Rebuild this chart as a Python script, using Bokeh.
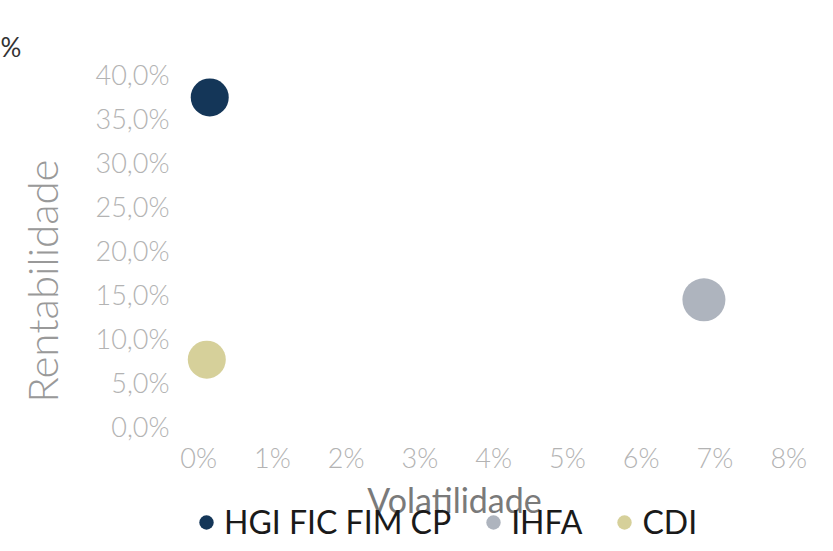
from bokeh.plotting import figure
from bokeh.layouts import column
from bokeh.models import (ColumnDataSource, Legend, LegendItem, FixedTicker,
                          CustomJSTickFormatter, Title, Label)
from bokeh.embed import file_html
from bokeh.resources import INLINE

# ---- data ----
series_names = ["HGI FIC FIM CP", "IHFA", "CDI"]
volatilidade = [0.15, 6.85, 0.11]      # %
rentabilidade = [37.4, 14.4, 7.6]      # %
x_ticks = [0, 1, 2, 3, 4, 5, 6, 7, 8]
y_ticks = [0, 5, 10, 15, 20, 25, 30, 35, 40]

# ---- styles ----
colors = ["#143658", "#AEB4BE", "#D6D09A"]
marker_sizes = [38, 43, 38]
LIGHT = "'Lato Light', Lato, sans-serif"
REG = "Lato, sans-serif"

p = figure(width=817, height=477, x_range=(-0.26, 8.39), y_range=(-0.68, 44.09),
           output_backend="svg", toolbar_location=None,
           min_border_left=179, min_border_right=0, min_border_top=38, min_border_bottom=45)
p.outline_line_color = None
p.grid.visible = False
p.background_fill_color = "white"
p.border_fill_color = "white"

sources = []
for i, name in enumerate(series_names):
    src = ColumnDataSource(dict(x=[volatilidade[i]], y=[rentabilidade[i]]))
    sources.append(src)
    p.scatter("x", "y", source=src, size=marker_sizes[i], fill_color=colors[i],
              line_color=colors[i], line_width=0)

for ax in (p.xaxis[0], p.yaxis[0]):
    ax.axis_line_color = None
    ax.major_tick_line_color = None
    ax.minor_tick_line_color = None
    ax.major_label_text_color = "#B3B3B3"
    ax.major_label_text_font = LIGHT
    ax.major_label_text_font_size = "27px"
    ax.axis_label_text_font_style = "normal"

p.xaxis.ticker = FixedTicker(ticks=x_ticks)
p.yaxis.ticker = FixedTicker(ticks=y_ticks)
p.xaxis.formatter = CustomJSTickFormatter(code="return tick.toFixed(0) + '%';")
p.yaxis.formatter = CustomJSTickFormatter(code="return tick.toFixed(1).replace('.', ',') + '%';")
p.yaxis.axis_label = "Rentabilidade" + "\u00a0" * 8
p.yaxis.axis_label_text_font = LIGHT
p.yaxis.axis_label_text_font_size = "42px"
p.yaxis.axis_label_text_color = "#999999"
p.xaxis.major_label_standoff = 2
p.yaxis.major_label_standoff = 4
p.yaxis.axis_label_standoff = 26

title = Title(text="%", align="left", offset=-179, standoff=-48, text_font=REG,
              text_font_size="26px", text_font_style="normal", text_color="#333333")
p.add_layout(title, "above")

# ---- strip below the chart: x-axis title and legend ----
lg = figure(width=817, height=58, x_range=(0, 1), y_range=(-2, -1),
            output_backend="svg", toolbar_location=None,
            x_axis_type=None, y_axis_type=None,
            min_border_left=0, min_border_right=0, min_border_top=0, min_border_bottom=0)
lg.outline_line_color = None
lg.grid.visible = False
lg.background_fill_color = "white"
lg.border_fill_color = "white"

lg.add_layout(Label(x=275, y=36, x_units="screen", y_units="screen", text="Volatilidade",
                    text_align="center", text_baseline="middle", text_font=REG,
                    text_font_size="34px", text_color="#7A7A7A"))

items = []
for i, name in enumerate(series_names):
    # same data; it lies outside this strip's range, so only the legend glyph shows
    r = lg.scatter("x", "y", source=sources[i], size=marker_sizes[i], fill_color=colors[i],
                   line_color=colors[i], line_width=0)
    items.append(LegendItem(label=name, renderers=[r]))
legend = Legend(items=items, orientation="horizontal", location=(9, -6),
                padding=0, margin=0, spacing=24, label_standoff=0,
                glyph_width=36, glyph_height=36,
                label_text_font=REG, label_text_font_size="32px",
                label_text_color="#1A1A1A", border_line_color=None,
                background_fill_alpha=0)
lg.add_layout(legend, "center")

layout = column(p, lg, spacing=0)
open("out.html", "w").write(file_html(layout, INLINE))
